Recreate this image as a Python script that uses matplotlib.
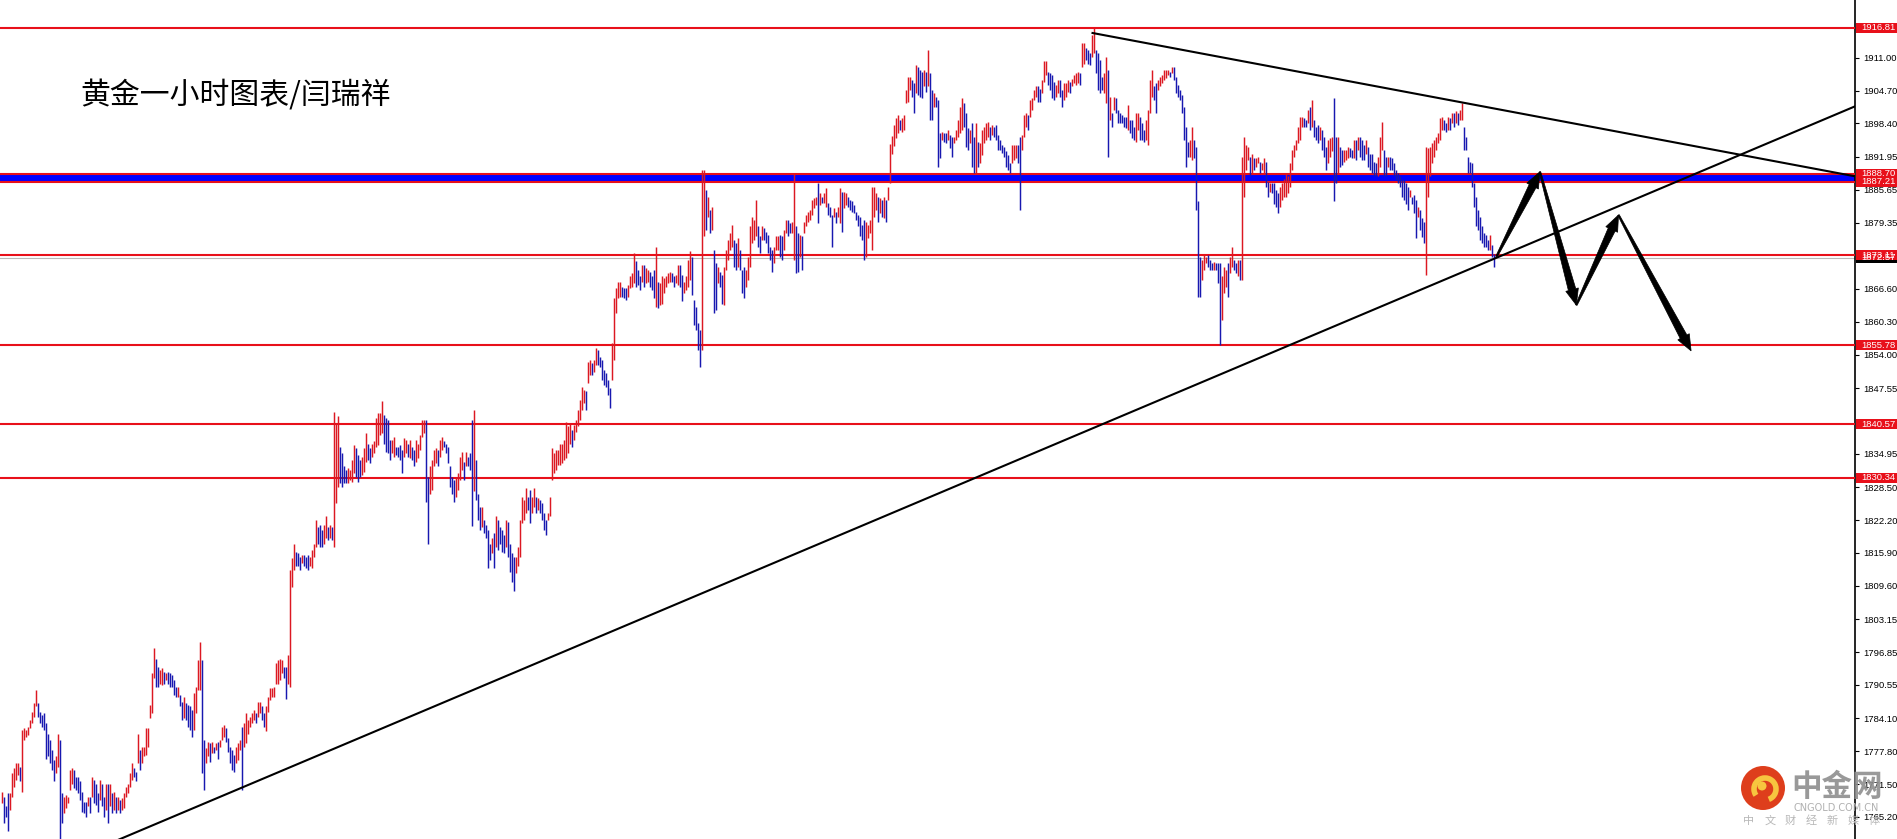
import matplotlib
matplotlib.use("Agg")
import matplotlib.pyplot as plt
import numpy as np
from matplotlib.collections import LineCollection
from matplotlib.patches import Polygon, Rectangle, Circle, Arc
import matplotlib.transforms as mtransforms

# ---------------- data ----------------
title_text = "黄金一小时图表/闫瑞祥"

highs = [
1770.0,1769.1,1767.2,1769.7,1769.7,1773.6,1774.5,1775.5,1775.5,1774.8,
1781.9,1782.2,1781.9,1782.5,1783.8,1785.4,1787.0,1789.6,1787.0,1785.4,
1784.8,1785.1,1783.2,1781.2,1780.0,1778.0,1776.1,1776.8,1781.2,1780.0,
1769.7,1769.1,1769.4,1769.1,1774.2,1774.5,1774.2,1772.9,1772.9,1772.0,
1770.0,1768.1,1768.1,1769.1,1769.1,1772.9,1772.3,1771.6,1769.7,1772.3,
1771.6,1769.1,1771.6,1771.6,1771.6,1769.7,1770.0,1769.1,1769.1,1768.4,
1768.8,1769.7,1771.0,1771.6,1773.6,1775.5,1774.5,1773.9,1781.2,1778.0,
1778.7,1778.7,1782.2,1782.2,1786.7,1792.8,1797.6,1795.6,1794.0,1793.4,
1793.7,1793.1,1792.8,1793.1,1792.8,1792.4,1791.5,1790.2,1790.2,1788.6,
1787.3,1788.3,1787.0,1786.7,1786.4,1785.7,1788.9,1790.2,1795.3,1798.8,
1795.3,1780.0,1778.4,1779.6,1779.3,1779.6,1778.7,1779.3,1779.6,1780.0,
1782.5,1782.8,1782.2,1780.3,1778.7,1778.0,1777.1,1778.7,1779.3,1780.0,
1782.5,1783.2,1785.1,1783.8,1784.4,1785.1,1785.7,1785.1,1787.3,1787.3,
1786.4,1785.1,1786.4,1788.3,1789.9,1789.9,1790.2,1794.7,1795.3,1795.6,
1795.3,1794.0,1794.0,1796.3,1812.6,1814.9,1817.7,1816.1,1815.8,1815.2,
1815.5,1815.5,1815.2,1815.5,1815.2,
1816.5,1817.7,1822.2,1820.9,1821.3,1820.3,1821.3,1822.9,1820.9,1821.3,
1820.9,1843.0,1840.8,1842.1,1836.3,1835.0,1832.5,1831.8,1832.2,1831.8,
1833.7,1836.6,1836.0,1834.7,1833.7,1834.4,1836.0,1838.9,1836.9,1836.0,
1836.9,1837.3,1841.8,1842.7,1842.7,1845.0,1842.4,1841.8,1841.4,1837.6,
1837.6,1838.2,1836.3,1836.3,1836.6,1835.6,1837.9,1837.6,1836.9,1837.6,
1836.3,1835.6,1837.6,1836.9,1838.6,1841.4,1841.4,1841.4,1830.5,1832.5,
1833.7,1835.6,1836.0,1835.6,1837.6,1838.2,1837.3,1836.9,1836.3,1832.5,
1830.5,1829.9,1830.5,1831.2,1834.4,1835.3,1833.4,1835.3,1834.4,1835.0,
1841.4,1843.4,1833.7,1827.3,1824.8,1824.8,1822.2,1821.3,1820.3,1817.7,
1818.7,1819.7,1822.9,1822.2,1820.9,1820.3,1819.3,1822.2,1821.9,1817.7,
1815.8,1815.2,1815.2,1817.1,1822.2,1826.7,1826.1,1828.3,1826.7,1828.0,
1826.7,1828.3,1826.7,1826.4,1826.1,1825.4,1823.5,1822.2,1823.5,1826.7,
1836.0,1835.0,1835.6,1835.6,1836.9,1836.9,1837.6,1841.1,1840.2,1840.8,
1839.5,1840.5,1841.4,1843.4,1845.3,1847.8,1847.2,1846.9,1852.6,1852.9,
1852.3,1852.9,1855.2,1854.9,1853.6,1852.9,1851.0,1850.4,1849.1,1847.5,
1856.2,1864.8,1866.7,1868.0,1868.0,1867.0,1866.7,1866.7,1867.4,1869.0,
1869.6,1873.5,1871.9,1870.3,1869.0,1871.2,1871.2,1870.6,1870.3,1869.9,
1869.0,1870.3,1874.7,1868.0,1867.7,1869.0,1868.7,1869.0,1869.6,1869.9,
1869.6,1869.0,1869.3,1871.2,1871.2,1869.3,1868.0,1869.0,1872.2,1873.8,
1872.8,1864.5,1863.2,1860.0,1858.7,1889.4,1889.4,1885.6,1884.3,1881.8,
1882.4,1874.1,1871.5,1870.9,1869.9,1869.3,1870.9,1874.1,1876.0,1877.3,
1878.9,1876.0,1875.4,1876.3,1874.1,1870.3,1870.9,1870.3,1872.8,1878.6,
1880.5,1879.9,1883.7,1878.6,1876.7,1878.6,1878.3,1877.6,1877.0,1874.7,
1874.1,1874.7,1876.7,1876.7,1877.0,1876.7,1877.9,1879.9,1879.9,1879.2,
1879.5,1888.8,1878.6,1877.3,1877.0,1876.7,1879.5,1880.8,1881.4,1881.8,
1883.7,1884.0,1884.3,1886.9,1885.0,1884.3,1885.0,1885.9,1883.1,1882.4,
1880.8,1882.1,1881.4,1882.4,1885.9,1885.3,1885.3,1885.0,1884.3,1883.7,
1883.4,1882.7,1881.4,1880.8,1880.5,1878.9,1879.9,1879.5,1878.9,1879.9,
1886.2,1886.2,1885.0,1884.3,1884.0,1883.7,1884.3,1883.7,1886.2,1894.5,
1896.0,1898.0,1899.5,1900.0,
1899.1,1899.4,1900.0,1904.8,1907.4,1907.4,1906.7,1906.1,1909.6,1909.3,
1908.7,1908.3,1908.7,1908.3,1912.5,1908.0,1904.8,1904.2,1903.5,1902.9,
1896.5,1896.8,1896.5,1896.5,1897.1,1896.2,1895.8,1895.8,1897.1,1899.1,
1901.6,1903.2,1902.3,1900.3,1897.5,1897.1,1898.4,1895.8,1898.4,1894.9,
1894.6,1897.1,1897.8,1898.4,1898.7,1897.8,1898.1,1897.8,1898.1,1896.2,
1895.2,1894.3,1893.9,1893.0,1892.3,1890.7,1894.3,1894.3,1894.3,1894.3,
1895.8,1896.2,1900.0,1900.3,1900.0,1902.9,1903.2,1904.8,1905.5,1905.5,
1905.1,1906.7,1910.3,1910.3,1908.3,1908.0,1907.7,1906.4,1905.8,1906.7,
1906.7,1904.8,1906.1,1906.1,1906.7,1906.4,1907.0,1907.7,1908.0,1908.3,
1908.0,1913.8,1913.8,1912.8,1912.5,1911.9,1915.4,1916.8,1912.5,1911.9,
1910.6,1907.4,1908.0,1911.2,1908.7,1903.5,1900.3,1903.5,1903.2,1901.0,
1900.3,1900.0,1899.7,1899.7,1901.9,1899.1,1899.1,1897.8,1900.3,1900.3,
1899.7,1898.4,1897.1,1899.1,1901.0,1906.7,1908.7,1905.5,1906.1,1906.7,
1907.4,1907.7,1908.7,1908.7,1908.7,1908.3,1909.3,1909.3,1907.4,1905.8,
1904.8,1903.9,1901.6,1897.8,1894.9,1895.2,1897.8,1895.2,1893.9,1883.4,
1872.8,1872.2,1873.4,1872.8,1873.1,1872.2,1871.5,1871.8,1871.5,1871.5,
1871.5,1869.0,1870.9,1870.2,1871.5,1872.8,1874.7,1872.2,1871.5,1872.2,
1872.2,1892.0,1895.8,1894.3,1893.9,1892.0,1892.6,1891.7,1891.7,1892.0,
1891.0,1890.7,1891.7,1891.0,1887.2,1886.9,1886.9,1886.9,1885.6,1885.0,
1886.2,1886.9,1887.8,1888.8,1888.2,1890.7,1893.3,1894.3,1895.2,1897.8,
1899.7,1899.7,1899.4,1899.1,1901.0,1901.6,1902.9,1899.1,1897.8,1898.1,
1897.8,1897.1,1895.8,1893.9,1895.2,1895.5,1895.8,1903.2,1895.8,1895.8,
1893.9,1893.3,1893.3,1893.3,1893.9,1893.6,1893.3,1895.2,1895.2,1895.8,
1895.8,1895.2,1894.3,1895.2,1893.9,1892.6,1892.6,1891.0,1890.7,1892.0,
1895.8,1898.7,1893.3,1892.0,1892.0,1892.0,1891.7,1890.7,1889.4,1888.8,
1888.2,1887.8,1887.5,1886.9,1886.2,1885.6,1884.3,1884.6,1883.7,1882.4,
1881.8,1880.2,1879.5,1893.9,1893.6,1893.9,1894.6,1895.2,1895.8,1896.5,
1899.4,1899.7,1899.1,1898.4,1899.7,1899.4,1900.3,1900.3,1900.7,1900.3,
1901.0,1902.3,1897.8,1895.8,1892.0,1891.0,1890.7,1886.9,1884.3,1881.8,
1880.5,1878.6,1877.3,1877.0,1876.0,1877.0,1875.0,1873.4,
]

lows = [
1767.8,1764.0,1765.2,1762.4,1766.5,1769.1,1771.0,1772.3,1773.2,1772.0,
1770.0,1780.0,1780.6,1780.9,1782.2,1783.2,1784.4,1786.4,1784.4,1783.2,
1782.5,1781.9,1776.4,1776.8,1775.5,1774.2,1772.0,1773.6,1774.8,1761.0,
1764.0,1765.9,1766.8,1767.8,1770.4,1771.6,1770.7,1770.4,1769.7,1768.4,
1766.2,1765.9,1765.2,1767.2,1765.9,1769.1,1767.8,1767.5,1766.2,1768.4,
1767.2,1765.2,1766.5,1764.0,1767.2,1765.9,1766.5,1765.9,1766.5,1765.9,
1766.5,1766.8,1769.1,1769.7,1771.0,1772.3,1772.9,1772.0,1775.5,1774.2,
1775.5,1776.8,1777.1,1778.7,1784.1,1785.1,1791.8,1790.2,1790.2,1790.8,
1790.5,1790.8,1791.5,1790.8,1790.2,1790.2,1788.6,1788.3,1788.3,1786.4,
1783.8,1784.1,1783.8,1782.5,1781.9,1780.6,1781.9,1785.1,1789.6,1789.6,
1773.6,1770.4,1775.5,1776.8,1775.8,1777.4,1777.4,1778.0,1776.4,1778.7,
1780.0,1780.6,1779.6,1777.7,1775.5,1774.2,1773.9,1775.5,1776.1,1778.0,
1770.4,1778.7,1779.3,1781.2,1782.5,1783.2,1783.8,1783.2,1784.4,1785.1,
1783.8,1782.5,1781.6,1785.4,1787.6,1788.3,1788.3,1790.8,1790.8,1791.5,
1792.8,1791.8,1787.9,1790.8,1790.2,1809.4,1812.6,1813.3,1813.3,1812.6,
1813.9,1813.3,1812.9,1812.6,1813.3,
1812.9,1815.2,1817.1,1817.7,1817.1,1817.1,1817.7,1818.7,1818.4,1818.7,
1818.4,1817.1,1825.4,1828.6,1829.3,1828.6,1829.3,1829.3,1829.3,1829.9,
1829.6,1831.2,1830.5,1829.6,1830.5,1830.9,1831.5,1833.4,1833.7,1833.1,
1834.4,1835.0,1836.3,1836.6,1838.5,1838.9,1836.9,1835.3,1835.0,1833.7,
1835.0,1834.4,1834.7,1834.4,1833.7,1831.2,1834.4,1835.0,1834.4,1834.1,
1833.7,1832.5,1833.4,1834.1,1835.6,1838.2,1838.9,1825.7,1817.7,1827.3,
1828.0,1832.5,1833.1,1832.5,1834.4,1835.6,1836.3,1835.0,1833.1,1828.6,
1827.3,1825.7,1826.7,1828.0,1829.9,1831.8,1829.9,1832.5,1832.5,1831.8,
1821.0,1827.7,1826.1,1822.2,1820.3,1820.9,1819.7,1818.7,1812.9,1814.5,
1815.8,1812.9,1817.1,1816.5,1817.7,1816.1,1815.8,1817.1,1815.2,1812.3,
1810.4,1808.5,1812.0,1813.3,1815.2,1821.6,1822.2,1823.5,1824.1,1821.6,
1823.5,1824.8,1823.5,1824.1,1823.5,1822.2,1820.3,1819.3,1822.2,1822.9,
1829.9,1831.2,1831.8,1832.8,1832.8,1833.1,1833.7,1834.1,1835.0,1836.9,
1836.3,1837.6,1839.2,1840.2,1841.4,1843.4,1844.6,1843.4,1848.5,1850.1,
1850.1,1850.7,1852.0,1852.0,1851.7,1849.1,1848.2,1847.8,1846.2,1843.7,
1849.1,1853.0,1861.9,1864.8,1865.1,1865.1,1864.8,1864.5,1865.1,1866.7,
1867.0,1867.7,1867.0,1867.4,1866.4,1868.0,1867.0,1867.7,1868.0,1867.0,
1866.4,1864.8,1863.2,1862.9,1863.5,1863.8,1865.8,1867.0,1867.7,1868.0,
1868.0,1867.0,1867.7,1867.4,1867.0,1864.2,1865.8,1866.4,1867.0,1868.3,
1865.4,1859.7,1858.7,1854.9,1851.7,1854.9,1876.7,1877.9,1880.5,1877.3,
1877.9,1861.9,1862.6,1867.7,1867.0,1863.8,1863.5,1870.3,1872.2,1874.1,
1874.7,1870.9,1870.3,1870.9,1870.3,1865.8,1864.8,1867.0,1868.3,1870.9,
1875.4,1876.0,1876.7,1874.7,1873.5,1876.0,1876.0,1875.4,1873.5,1872.2,
1869.9,1871.5,1874.1,1874.1,1872.8,1872.2,1874.1,1877.3,1876.7,1877.3,
1877.3,1872.2,1869.6,1869.9,1872.8,1870.3,1877.3,1878.6,1879.5,1879.9,
1880.8,1882.1,1882.7,1879.2,1882.7,1883.1,1883.1,1882.4,1880.8,1880.5,
1874.7,1880.5,1879.2,1880.5,1879.2,1877.6,1882.1,1882.7,1882.4,1881.8,
1881.4,1881.1,1879.9,1878.6,1876.7,1876.0,1872.2,1872.8,1876.3,1877.3,
1874.1,1880.5,1881.8,1879.5,1881.1,1880.5,1880.2,1879.5,1883.7,1886.9,
1892.5,1894.0,1895.5,1896.5,
1897.1,1896.8,1897.1,1902.3,1902.6,1904.8,1903.5,1900.3,1904.2,1903.9,
1903.5,1903.2,1905.5,1904.5,1905.5,1899.1,1899.1,1901.6,1901.6,1890.1,
1891.7,1895.2,1894.9,1894.6,1895.2,1893.6,1892.0,1894.6,1895.2,1895.8,
1896.5,1897.1,1897.8,1893.9,1893.3,1894.6,1890.1,1888.8,1888.8,1890.1,
1890.7,1892.3,1894.6,1895.2,1895.8,1895.2,1896.2,1895.8,1895.2,1893.3,
1893.3,1892.7,1892.0,1890.1,1889.4,1888.8,1890.7,1891.4,1891.7,1890.7,
1881.8,1893.3,1895.8,1897.8,1897.1,1899.7,1901.0,1902.9,1903.5,1902.6,
1902.6,1904.2,1906.4,1907.7,1905.8,1904.8,1903.2,1902.9,1903.5,1904.2,
1903.5,1901.6,1902.9,1903.5,1904.5,1904.2,1905.5,1906.1,1905.8,1906.1,
1905.8,1909.3,1909.9,1910.6,1909.9,1909.6,1911.2,1911.9,1908.0,1904.8,
1904.2,1904.8,1904.2,1902.3,1892.0,1899.1,1897.8,1901.0,1900.3,1898.4,
1898.4,1898.4,1897.8,1897.5,1897.1,1896.5,1895.5,1895.2,1894.9,1897.1,
1895.2,1895.2,1894.9,1895.2,1894.3,1900.3,1903.5,1902.9,1900.3,1904.8,
1905.5,1906.1,1906.7,1907.1,1907.7,1907.4,1908.0,1906.7,1904.2,1903.5,
1902.9,1900.3,1895.2,1890.1,1892.0,1892.0,1891.4,1891.7,1881.8,1865.1,
1865.1,1868.3,1870.2,1871.5,1870.9,1870.2,1870.2,1870.2,1870.2,1867.7,
1855.8,1860.6,1865.8,1867.0,1865.1,1869.6,1870.9,1870.2,1869.6,1869.0,
1868.3,1868.3,1884.3,1889.4,1891.4,1888.2,1888.8,1889.4,1890.1,1890.7,
1888.8,1889.4,1888.8,1886.2,1884.3,1885.3,1885.0,1883.0,1882.4,1881.1,
1882.4,1883.7,1884.3,1884.3,1885.0,1886.2,1889.4,1892.0,1893.3,1894.6,
1895.2,1897.8,1897.8,1897.8,1898.4,1897.1,1897.8,1895.8,1895.2,1894.6,
1895.2,1893.3,1892.0,1889.4,1890.7,1892.0,1893.0,1883.4,1886.9,1888.8,
1890.1,1890.4,1891.0,1891.4,1891.7,1892.0,1891.7,1891.7,1891.4,1893.3,
1892.0,1891.4,1891.4,1892.6,1890.1,1889.4,1888.8,1888.2,1888.2,1888.2,
1890.1,1893.3,1888.2,1888.2,1890.1,1889.4,1889.4,1888.2,1887.5,1886.9,
1886.2,1884.3,1883.7,1883.0,1881.8,1884.3,1883.0,1881.1,1876.3,1880.5,
1877.9,1876.6,1875.4,1869.3,1884.3,1888.2,1890.7,1892.0,1893.3,1894.6,
1895.2,1897.1,1897.1,1896.8,1897.1,1897.1,1898.4,1897.8,1898.4,1898.1,
1899.1,1899.1,1893.3,1893.3,1888.8,1888.8,1886.2,1882.4,1878.6,1877.9,
1876.0,1875.4,1874.7,1874.7,1874.1,1874.1,1872.8,1870.9,
]

level_prices = [1916.81, 1873.11, 1855.78, 1840.57, 1830.34]
band_prices = [1887.21, 1888.70]
bid_price = 1872.57

tick_values = [1911.00, 1904.70, 1898.40, 1891.95, 1885.65, 1879.35, 1866.60,
               1860.30, 1854.00, 1847.55, 1834.95, 1828.50, 1822.20, 1815.90,
               1809.60, 1803.15, 1796.85, 1790.55, 1784.10, 1777.80, 1771.50,
               1765.20]

# price tags on the right axis (drawn in this order)
tag_prices = [1887.21, 1888.70, 1872.57, 1873.11, 1855.78, 1840.57, 1830.34, 1916.81]
tag_colors = ["#e8101a", "#e8101a", "#000000", "#e8101a", "#e8101a", "#e8101a", "#e8101a", "#e8101a"]

# trend lines (bar index, price)
rising_line = [(40.0, 1757.8), (930.0, 1902.2)]
falling_line = [(545.0, 1915.8), (930.0, 1888.0)]

# forecast zig-zag arrows (bar index, price)
arrow_path = [(747.5, 1872.8), (769.2, 1889.1), (787.4, 1863.5), (808.5, 1880.8), (844.8, 1854.7)]

# ---------------- figure ----------------
W, H, DPI = 1897, 839, 100
AX_RIGHT = 1855
PX_PER_PRICE = 5.206
P_TOP = 1922.1
fig = plt.figure(figsize=(W / DPI, H / DPI), dpi=DPI)
fig.patch.set_facecolor("white")
ax = fig.add_axes([0, 0, AX_RIGHT / W, 1])
ax.set_facecolor("white")

# bars sit on pixel centres, 2 px apart
x0_px, ppb = 1.5, 2.0
ax.set_xlim(-x0_px / ppb, (AX_RIGHT - x0_px) / ppb)
ax.set_ylim(P_TOP - H / PX_PER_PRICE, P_TOP)

RED = "#e8101a"
BAR_UP = "#dc1822"
BAR_DN = "#1818b0"

# horizontal levels
ax.axhspan(band_prices[0], band_prices[1], color="#0000ff", lw=0, zorder=2)
for p in band_prices:
    ax.axhline(p, color=RED, lw=1.5, zorder=3)
for p in level_prices:
    ax.axhline(p, color=RED, lw=1.5, zorder=3)
ax.axhline(bid_price, color="#b8b8b8", lw=0.8, zorder=2)

# bars
hs = np.array(highs)
ls = np.array(lows)
mids = (hs + ls) / 2
up = np.concatenate([[True], mids[1:] >= mids[:-1]])
segs = [[(i, lo), (i, hi)] for i, (hi, lo) in enumerate(zip(hs, ls))]
cols = [BAR_UP if u else BAR_DN for u in up]
ax.add_collection(LineCollection(segs, colors=cols, linewidths=1.05,
                                 antialiaseds=True, zorder=4))

# trend lines
for line in (rising_line, falling_line):
    xs, ys = zip(*line)
    ax.plot(xs, ys, color="black", lw=1.5, zorder=5, solid_capstyle="butt")

# arrows (tapered wedges with heads), built in pixel space
to_px = ax.transData
to_data = ax.transData.inverted()
pts_px = to_px.transform(np.array(arrow_path))
for k in range(len(pts_px) - 1):
    a, b = pts_px[k], pts_px[k + 1]
    d = b - a
    L = np.hypot(*d)
    u = d / L
    nrm = np.array([-u[1], u[0]])
    hl, hw, bw, tw = 16.0, 6.5, 3.8, 0.8
    base = a + u * (L - hl)
    poly = [a + nrm * tw, base + nrm * bw, base + nrm * hw, b,
            base - nrm * hw, base - nrm * bw, a - nrm * tw]
    ax.add_patch(Polygon(to_data.transform(np.array(poly)), closed=True,
                         fc="black", ec="black", lw=0.5, zorder=6))

# axis styling
for s in ("top", "left", "bottom"):
    ax.spines[s].set_visible(False)
ax.spines["right"].set_color("black")
ax.spines["right"].set_linewidth(1.2)
ax.set_xticks([])
ax.yaxis.tick_right()
ax.set_yticks(tick_values)
ax.set_yticklabels([f"{v:.2f}" for v in tick_values])
ax.tick_params(axis="y", direction="out", length=3, width=0.8, pad=3,
               labelsize=6.8, colors="black")
for t in ax.get_yticklabels():
    t.set_fontfamily("Liberation Sans")

# price tags
blend = mtransforms.blended_transform_factory(fig.transFigure, ax.transData)
tag_h = 10.0 / PX_PER_PRICE
for p, c in zip(tag_prices, tag_colors):
    r = Rectangle(((AX_RIGHT + 0.8) / W, p - tag_h / 2), 1 - (AX_RIGHT + 0.8) / W, tag_h,
                  transform=blend, fc=c, ec="none", zorder=5, clip_on=False)
    fig.add_artist(r)
    fig.add_artist(plt.Text(1861 / W, p, f"{p:.2f}", transform=blend, color="white",
                            fontsize=6.8, family="Liberation Sans", va="center",
                            ha="left", zorder=6))

# title
fig.text(80 / W, 1 - 96 / H, title_text, fontsize=21.5, va="center", ha="left",
         family=["Noto Sans CJK SC", "DejaVu Sans"], color="black")

# watermark logo
px = mtransforms.IdentityTransform()
cx, cy = 1763, H - 788
fig.add_artist(Circle((cx, cy), 22, transform=px, fc="#de3e1c", ec="none", zorder=7))
fig.add_artist(Arc((cx + 2, cy - 1), 22, 22, theta1=-70, theta2=215, transform=px,
                   color="#f7c53f", lw=4.0, zorder=8))
fig.add_artist(Circle((cx - 1, cy + 2), 4.5, transform=px, fc="#f7c53f", ec="none", zorder=8))
fig.add_artist(plt.Text(1791 / W, 1 - 787 / H, "中金网", color="#8e8e8e", alpha=0.9,
                        fontsize=22, fontweight="bold", va="center", ha="left",
                        family=["Noto Sans CJK SC", "DejaVu Sans"], zorder=8))
fig.add_artist(plt.Text(1836 / W, 1 - 808 / H, "CNGOLD.COM.CN", color="#b0b0b0",
                        fontsize=7, va="center", ha="center", family="DejaVu Sans", zorder=8))
sub = "中文财经新媒体"
for j, ch in enumerate(sub):
    fig.add_artist(plt.Text((1749 + j * 20.8) / W, 1 - 821 / H, ch, color="#b8b8b8",
                            fontsize=8, va="center", ha="center",
                            family=["Noto Sans CJK SC", "DejaVu Sans"], zorder=8))

fig.savefig("out.png", dpi=DPI, facecolor="white")
